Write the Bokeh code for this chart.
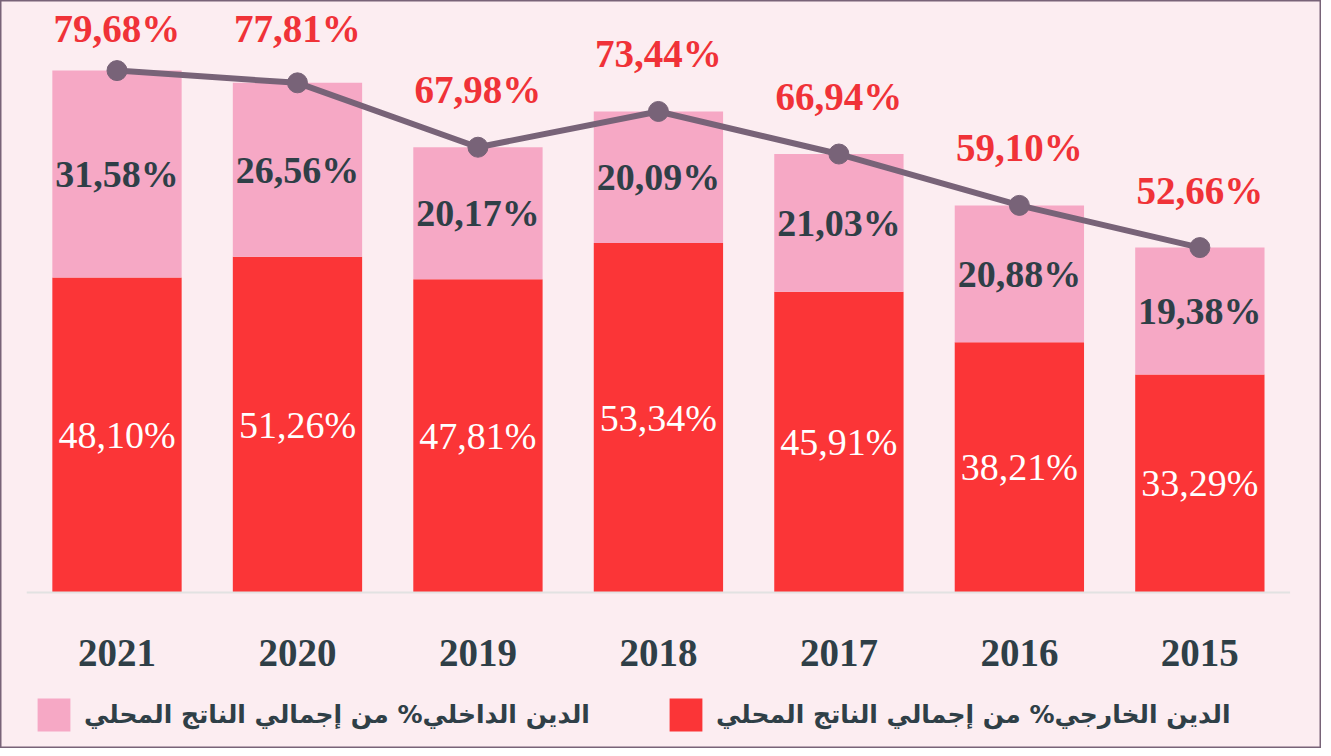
import numpy as np
from bokeh.plotting import figure
from bokeh.models import Range1d, Legend, LegendItem, ColumnDataSource
from bokeh.core.properties import value
from bokeh.embed import file_html
from bokeh.resources import INLINE

# ---- data ----
years = ["2021", "2020", "2019", "2018", "2017", "2016", "2015"]
external = [48.10, 51.26, 47.81, 53.34, 45.91, 38.21, 33.29]   # الدين الخارجي
domestic = [31.58, 26.56, 20.17, 20.09, 21.03, 20.88, 19.38]   # الدين الداخلي
total = [79.68, 77.81, 67.98, 73.44, 66.94, 59.10, 52.66]
label_external = "الدين الخارجي% من إجمالي الناتج المحلي"
label_domestic = "الدين الداخلي% من إجمالي الناتج المحلي"

# ---- styles ----
BG = "#FCEDF1"
RED = "#FB3537"
PINK = "#F6A8C5"
LINE = "#786378"
DARK = "#2F3F47"
RED_TXT = "#F03238"
SERIF = value("Liberation Serif")

def fmt(v):
    return f"{v:.2f}".replace(".", ",") + "%"

n = len(years)
xi = np.arange(n)
ext = np.array(external)
dom = np.array(domestic)
tot = np.array(total)

PX_PER_UNIT = 6.55
p = figure(width=1321, height=748,
           x_range=Range1d(-0.6455, 6.674), y_range=Range1d(-23.82, 90.38),
           output_backend="svg", toolbar_location=None,
           x_axis_location=None, y_axis_location=None,
           min_border=0, background_fill_color=BG, border_fill_color=BG,
           outline_line_color=LINE, outline_line_width=2)
p.grid.visible = False

src = ColumnDataSource(dict(x=xi, external=ext, domestic=dom))
rs = p.vbar_stack(["external", "domestic"], x="x", width=0.7165,
                  color=[RED, PINK], line_color=None, source=src)

# baseline
p.line(x=[-0.5, n - 0.5], y=[0, 0], line_color="#E2E2E2", line_width=2)

# segment labels
p.text(x=xi, y=ext / 2, text=[fmt(v) for v in external], text_font=SERIF,
       text_font_size="38px", text_color="white", text_align="center",
       text_baseline="middle")
p.text(x=xi, y=ext + dom / 2, text=[fmt(v) for v in domestic], text_font=SERIF,
       text_font_style="bold", text_font_size="38px", text_color=DARK,
       text_align="center", text_baseline="middle")

# total line
p.line(x=xi, y=tot, line_color=LINE, line_width=6)
p.scatter(x=xi, y=tot, size=20, fill_color=LINE, line_color=LINE)

lab_y = np.minimum(tot + 57.5 / PX_PER_UNIT, 86.03)
p.text(x=xi, y=lab_y, text=[fmt(v) for v in total], text_font=SERIF,
       text_font_style="bold", text_font_size="39px", text_color=RED_TXT,
       text_align="center", text_baseline="middle")

# year labels
p.text(x=xi, y=[-9.24] * n, text=years, text_font=SERIF,
       text_font_style="bold", text_font_size="39px", text_color=DARK,
       text_align="center", text_baseline="middle")

def make_legend(label, r, loc):
    return Legend(items=[LegendItem(label=label, renderers=[r])],
                  location=loc, orientation="horizontal", padding=0, margin=0,
                  background_fill_alpha=0, border_line_color=None,
                  glyph_width=41, glyph_height=41, label_standoff=10,
                  label_text_font="DejaVu Sans", label_text_font_style="bold",
                  label_text_font_size="25px", label_text_color=DARK)

p.add_layout(make_legend(label_domestic, rs[1], (33, 13)))
p.add_layout(make_legend(label_external, rs[0], (665, 13)))

open("out.html", "w").write(file_html(p, INLINE))
